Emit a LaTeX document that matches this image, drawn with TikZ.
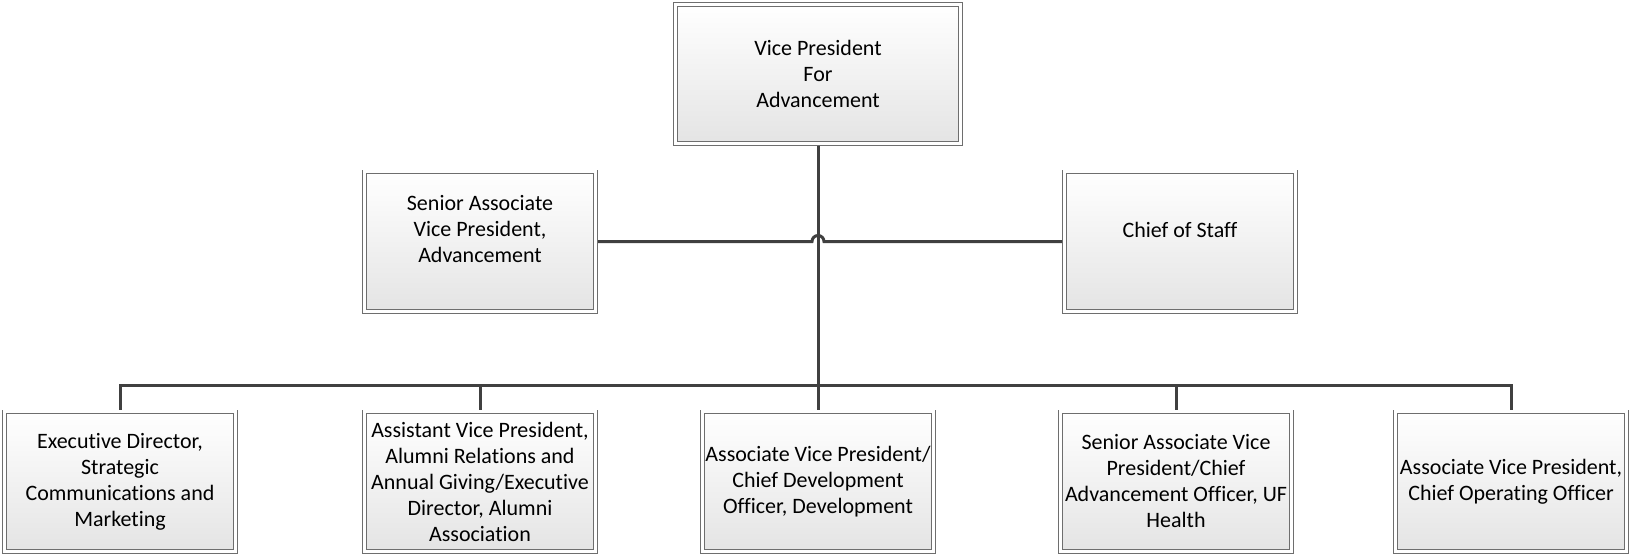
\documentclass[tikz,border=0pt]{standalone}
\usepackage{fontspec}
\setmainfont{Carlito}[Ligatures=NoCommon]
\usepackage{tikz}
\usetikzlibrary{positioning,calc,shadows}
\definecolor{boxline}{RGB}{110,110,110}
\definecolor{boxfill}{RGB}{228,228,228}
\definecolor{linkline}{RGB}{64,64,64}
\newcommand{\postfont}{\fontsize{22}{26}\selectfont}
\tikzset{post/.style={rectangle,draw=boxline,line width=0.8pt,double=white,double distance=3pt,
	 top color=white,bottom color=boxfill,minimum width=231.4pt,minimum height=139.4pt,
	 inner sep=0pt,outer sep=2.3pt,align=center,font=\postfont,
	 drop shadow={shadow xshift=2pt,shadow yshift=-2pt,opacity=0.15}},
	 uptext/.style={align=center,font=\postfont,yshift=12pt},
	 link/.style={draw=linkline,line width=3pt}
	 }

\begin{document}
\begin{tikzpicture}[x=1pt,y=1pt]
	\useasboundingbox (0,0) rectangle (1629,-555);
	\node[post,minimum width=285.4pt] (vp) at (818,-74) {Vice President\\For\\Advancement};
	\node[post,label={[uptext]center:{Senior Associate\\Vice President,\\Advancement}}] (sav) at (480,-241.5) {};
	\node[post,label={[uptext]center:Chief of Staff}] (cos) at (1180,-241.5) {};
	\node[post] (strat) at (120,-481.5) {Executive Director,\\Strategic\\Communications and\\Marketing};
	\node[post] (alumni) at (480,-481.5) {Assistant Vice President,\\Alumni Relations and\\Annual Giving/Executive\\Director, Alumni\\Association};
	\node[post] (dev) at (818,-481.5) {Associate Vice President/\\Chief Development\\Officer, Development};
	\node[post] (health) at (1176,-481.5) {Senior Associate Vice\\President/Chief\\Advancement Officer, UF\\Health};
	\node[post] (coo) at (1511,-481.5) {Associate Vice President,\\Chief Operating Officer};
	\coordinate (bus) at (818,-385);
	% trunk and bus
	\draw[link] (vp.south) -- (dev.north);
	\draw[link] (strat.north) |- (bus) -| (coo.north);
	\foreach \b in {alumni,health}
		\draw[link] (\b.north) -- (\b.north |- bus);
	% staff line hops over the trunk
	\draw[link] (sav.east) -- ($(vp.south |- sav.east)+(-6,0)$) arc (180:0:6) -- (cos.west);
\end{tikzpicture}
\end{document}
